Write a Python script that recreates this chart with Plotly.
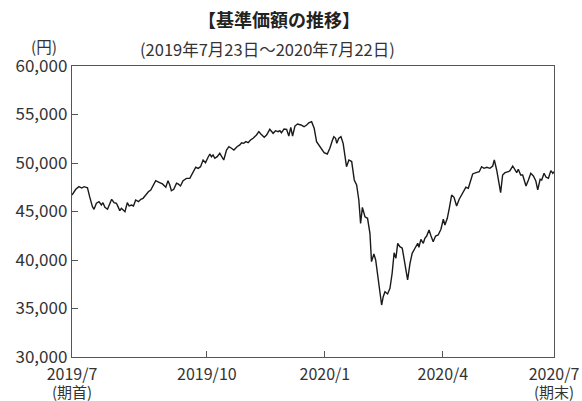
import plotly.graph_objects as go

# position along the period (trading-day index, 0 = 2019/7/23, 243 = 2020/7/22)
day_idx = [0, 1.9, 3.5, 4.9, 6.1, 7.8, 8.9, 10.3, 11.1, 12.3, 13.6, 14.8, 15.6, 16.6, 17.9, 18.7,
           20.0, 21.2, 22.4, 23.2, 24.1, 24.9, 25.7, 26.7, 27.9, 28.8, 30.0, 31.0, 32.1, 33.5, 34.7,
           35.8, 37.2, 38.5, 39.7, 40.9, 42.2, 43.9, 45.6, 47.3, 48.4, 49.3, 50.1, 51.3, 52.7, 53.5,
           54.7, 56.0, 57.7, 59.4, 61.0, 62.4, 63.6, 64.8, 66.1, 67.3, 68.6, 69.5, 70.3, 71.1, 72.0,
           73.2, 74.5, 75.5, 76.5, 77.9, 79.1, 80.4, 81.6, 83.2, 84.6, 85.5, 86.6, 87.6, 88.8, 90.0,
           91.3, 93.0, 94.2, 95.2, 96.9, 98.1, 99.7, 101.4, 102.6, 103.9, 104.8, 105.6, 106.9, 108.2,
           109.3, 110.3, 111.2, 112.4, 113.7, 115.4, 117.0, 118.3, 119.4, 120.8, 122.1, 123.3, 124.5,
           125.8, 127.1, 128.7, 130.0, 131.2, 132.0, 132.9, 133.5, 134.5, 135.6, 136.7, 137.6, 138.4,
           139.6, 141.0, 142.3, 143.5, 144.6, 145.5, 146.4, 147.7, 149.0, 150.2, 151.0, 152.2, 153.1,
           154.4, 155.2, 156.1, 156.9, 157.8, 159.1, 160.3, 161.4, 162.4, 163.3, 164.2, 165.3, 166.5,
           167.8, 169.2, 170.4, 171.5, 172.9, 174.3, 174.9, 175.9, 177.1, 177.9, 178.8, 180.0, 181.0,
           182.1, 183.3, 184.6, 186.0, 187.2, 188.0, 189.2, 190.2, 191.4, 192.6, 193.9, 195.2, 197.0,
           198.6, 199.8, 201.0, 202.0, 203.7, 205.3, 206.5, 207.7, 209.1, 210.7, 212.1, 212.9, 214.1,
           215.1, 216.1, 217.1, 218.3, 220.0, 220.8, 222.2, 223.3, 224.2, 225.0, 226.2, 227.2, 228.9,
           230.1, 231.3, 232.6, 233.8, 234.8, 236.0, 236.8, 238.0, 239.0, 240.2, 241.4, 242.4, 243.0]

nav = [46700, 47290, 47560, 47420, 47560, 47450, 46530, 45500, 45230, 45850, 46010, 45670, 45910,
       45430, 45230, 45670, 46260, 45910, 45850, 45500, 45080, 45330, 45150, 44980, 45910, 45570,
       45670, 45570, 46190, 46010, 46260, 46360, 46700, 47040, 47220, 47730, 48180, 48010, 47840,
       47500, 48180, 47730, 47140, 47290, 47910, 47840, 47630, 48180, 48420, 48420, 49100, 49560,
       49450, 49620, 50310, 50030, 50590, 50930, 50650, 50830, 50480, 50650, 51000, 50590, 50310,
       51340, 51680, 51520, 51340, 51680, 51860, 52090, 52030, 52200, 52090, 52370, 52550, 52890,
       53230, 52990, 52650, 52890, 53470, 53060, 53330, 53230, 53330, 53120, 53510, 53470, 52780,
       53680, 52780, 53810, 54020, 53920, 53740, 53920, 54150, 54260, 53580, 52200, 51860, 51410,
       51060, 50930, 51520, 52300, 52710, 52550, 52030, 52550, 52710, 52030, 50830, 49620, 50310,
       50150, 48250, 47730, 46190, 43780, 45430, 44460, 44300, 42750, 39830, 40620, 40000, 37940,
       36220, 35360, 36220, 36730, 36500, 37080, 38630, 40750, 40180, 41720, 41370, 41210, 39660,
       37940, 39660, 40690, 41210, 41720, 41310, 42130, 41720, 42240, 42470, 43090, 42470, 41890,
       42470, 42580, 43170, 44200, 43610, 44300, 45330, 46700, 46460, 45570, 46260, 46940, 47500,
       47390, 48320, 48870, 49000, 49100, 49620, 49450, 49560, 49450, 49690, 50310, 49280, 47910,
       46940, 48760, 49000, 49100, 49210, 49690, 49350, 49000, 49350, 48760, 48760, 47630, 48250,
       48940, 48660, 48180, 47220, 48320, 48250, 48940, 48530, 48420, 49210, 48940, 49100]

tick_pos = [0, 68.0, 127.5, 187.0, 243]
tick_labels = ["2019/7", "2019/10", "2020/1", "2020/4", "2020/7"]
period_notes = ["(期首)", "(期末)"]   # shown under the first and last tick labels
y_ticks = [30000, 35000, 40000, 45000, 50000, 55000, 60000]

FONT = "Noto Sans CJK JP"
TXT = "#333333"
AX = "#555555"

fig = go.Figure()
fig.add_trace(go.Scatter(x=day_idx, y=nav, mode="lines",
                         line=dict(color="#1a1a1a", width=1.4), hoverinfo="skip"))

annotations = [
    dict(text="<b>【基準価額の推移】</b>", xref="paper", yref="paper",
         x=0.4295, y=1.1615, xanchor="center", yanchor="middle", showarrow=False,
         font=dict(size=18, color="#222222", family=FONT)),
    dict(text="(2019年7月23日～2020年7月22日)", xref="paper", yref="paper",
         x=0.4046, y=1.0584, xanchor="center", yanchor="middle", showarrow=False,
         font=dict(size=16.5, color=TXT, family=FONT)),
    dict(text="(円)", xref="paper", yref="paper",
         x=-0.058, y=1.07, xanchor="center", yanchor="middle", showarrow=False,
         font=dict(size=15.5, color=TXT, family=FONT)),
]
for xv, note in zip([tick_pos[0], tick_pos[-1]], period_notes):
    annotations.append(dict(text=note, xref="x", yref="paper", x=xv, y=-0.117,
                            xanchor="center", yanchor="middle", showarrow=False,
                            font=dict(size=15, color=TXT, family=FONT)))

fig.update_layout(
    width=582, height=401,
    margin=dict(l=72, r=28, t=66, b=44, autoexpand=False),
    paper_bgcolor="white", plot_bgcolor="white",
    showlegend=False,
    font=dict(family=FONT, color=TXT, size=16),
    xaxis=dict(range=[0, 243], tickmode="array", tickvals=tick_pos, ticktext=tick_labels,
               automargin=False, ticklabelstandoff=3,
               showgrid=False, zeroline=False, showline=True, mirror=True,
               linecolor=AX, linewidth=1.2, ticks="inside", ticklen=6, tickcolor=AX,
               tickwidth=1, tickfont=dict(size=16, color=TXT, family=FONT)),
    yaxis=dict(range=[30000, 60000], tickmode="array", tickvals=y_ticks,
               ticktext=[f"{v:,}" for v in y_ticks], automargin=False,
               showgrid=False, zeroline=False, showline=True, mirror=True,
               linecolor=AX, linewidth=1.2, ticks="inside", ticklen=6, tickcolor=AX,
               tickwidth=1, tickfont=dict(size=17, color=TXT, family=FONT)),
    annotations=annotations,
)

fig.write_html("out.html", config={"displayModeBar": False, "staticPlot": True},
               post_script="document.body.style.margin='0';document.body.style.overflow='hidden';")
